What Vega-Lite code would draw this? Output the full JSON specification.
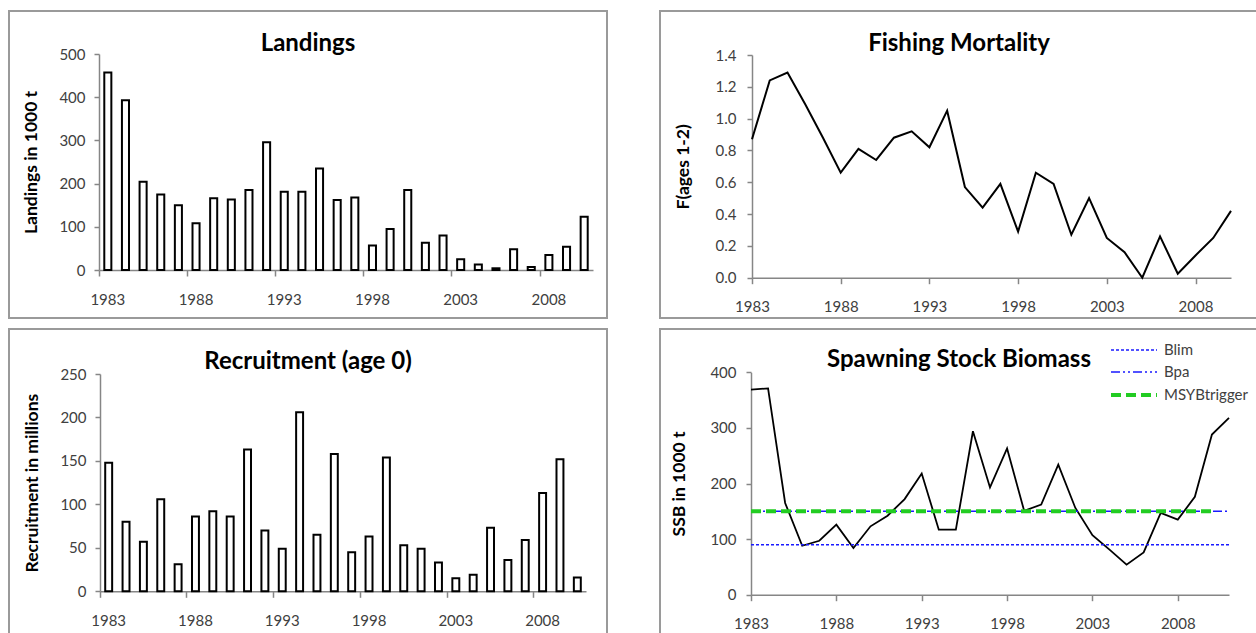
{
  "$schema": "https://vega.github.io/schema/vega-lite/v6.json",
  "padding": {"left": 8, "top": 10, "right": 0, "bottom": 0},
  "background": "white",
  "columns": 2,
  "spacing": {"row": 9, "column": 51},
  "resolve": {
    "scale": {"color": "independent", "strokeDash": "independent", "strokeWidth": "independent"},
    "legend": {"color": "independent", "strokeDash": "independent", "strokeWidth": "independent"}
  },
  "datasets": {
    "landings": [
      {"year": 1983, "value": 457}, {"year": 1984, "value": 393}, {"year": 1985, "value": 204}, {"year": 1986, "value": 175},
      {"year": 1987, "value": 150}, {"year": 1988, "value": 108}, {"year": 1989, "value": 166}, {"year": 1990, "value": 163},
      {"year": 1991, "value": 185}, {"year": 1992, "value": 296}, {"year": 1993, "value": 181}, {"year": 1994, "value": 181},
      {"year": 1995, "value": 235}, {"year": 1996, "value": 162}, {"year": 1997, "value": 168}, {"year": 1998, "value": 57},
      {"year": 1999, "value": 95}, {"year": 2000, "value": 185}, {"year": 2001, "value": 63}, {"year": 2002, "value": 80},
      {"year": 2003, "value": 25}, {"year": 2004, "value": 13}, {"year": 2005, "value": 4}, {"year": 2006, "value": 48},
      {"year": 2007, "value": 7}, {"year": 2008, "value": 35}, {"year": 2009, "value": 54}, {"year": 2010, "value": 123}
    ],
    "fmort": [
      {"year": 1983, "value": 0.87}, {"year": 1984, "value": 1.24}, {"year": 1985, "value": 1.29}, {"year": 1986, "value": 1.09},
      {"year": 1987, "value": 0.88}, {"year": 1988, "value": 0.66}, {"year": 1989, "value": 0.81}, {"year": 1990, "value": 0.74},
      {"year": 1991, "value": 0.88}, {"year": 1992, "value": 0.92}, {"year": 1993, "value": 0.82}, {"year": 1994, "value": 1.05},
      {"year": 1995, "value": 0.57}, {"year": 1996, "value": 0.44}, {"year": 1997, "value": 0.59}, {"year": 1998, "value": 0.29},
      {"year": 1999, "value": 0.66}, {"year": 2000, "value": 0.59}, {"year": 2001, "value": 0.27}, {"year": 2002, "value": 0.50},
      {"year": 2003, "value": 0.25}, {"year": 2004, "value": 0.16}, {"year": 2005, "value": 0.0}, {"year": 2006, "value": 0.26},
      {"year": 2007, "value": 0.025}, {"year": 2008, "value": 0.14}, {"year": 2009, "value": 0.25}, {"year": 2010, "value": 0.42}
    ],
    "recruit": [
      {"year": 1983, "value": 148}, {"year": 1984, "value": 80}, {"year": 1985, "value": 57}, {"year": 1986, "value": 106},
      {"year": 1987, "value": 31}, {"year": 1988, "value": 86}, {"year": 1989, "value": 92}, {"year": 1990, "value": 86},
      {"year": 1991, "value": 163}, {"year": 1992, "value": 70}, {"year": 1993, "value": 49}, {"year": 1994, "value": 206},
      {"year": 1995, "value": 65}, {"year": 1996, "value": 158}, {"year": 1997, "value": 45}, {"year": 1998, "value": 63},
      {"year": 1999, "value": 154}, {"year": 2000, "value": 53}, {"year": 2001, "value": 49}, {"year": 2002, "value": 33},
      {"year": 2003, "value": 15}, {"year": 2004, "value": 19}, {"year": 2005, "value": 73}, {"year": 2006, "value": 36},
      {"year": 2007, "value": 59}, {"year": 2008, "value": 113}, {"year": 2009, "value": 152}, {"year": 2010, "value": 16}
    ],
    "ssb": [
      {"year": 1983, "value": 369}, {"year": 1984, "value": 371}, {"year": 1985, "value": 165}, {"year": 1986, "value": 88},
      {"year": 1987, "value": 97}, {"year": 1988, "value": 126}, {"year": 1989, "value": 84}, {"year": 1990, "value": 123},
      {"year": 1991, "value": 142}, {"year": 1992, "value": 172}, {"year": 1993, "value": 218}, {"year": 1994, "value": 117},
      {"year": 1995, "value": 117}, {"year": 1996, "value": 294}, {"year": 1997, "value": 193}, {"year": 1998, "value": 263},
      {"year": 1999, "value": 151}, {"year": 2000, "value": 162}, {"year": 2001, "value": 234}, {"year": 2002, "value": 156},
      {"year": 2003, "value": 107}, {"year": 2004, "value": 81}, {"year": 2005, "value": 54}, {"year": 2006, "value": 76},
      {"year": 2007, "value": 147}, {"year": 2008, "value": 135}, {"year": 2009, "value": 176}, {"year": 2010, "value": 288},
      {"year": 2011, "value": 318}
    ],
    "refpoints": [
      {"series": "Blim", "year": 1983, "value": 90}, {"series": "Blim", "year": 2011, "value": 90},
      {"series": "Bpa", "year": 1983, "value": 150}, {"series": "Bpa", "year": 2011, "value": 150},
      {"series": "MSYBtrigger", "year": 1983, "value": 150}, {"series": "MSYBtrigger", "year": 2010, "value": 150}
    ]
  },
  "concat": [
    {
      "width": 598, "height": 307,
      "title": {"text": "Landings", "offset": -45},
      "data": {"name": "landings"},
      "mark": {"type": "bar", "fill": "white", "stroke": "black", "strokeWidth": 2, "width": {"band": 0.4}},
      "encoding": {
        "x": {"field": "year", "type": "ordinal",
          "scale": {"range": [90, 584], "paddingInner": 0, "paddingOuter": 0},
          "axis": {"values": [1983, 1988, 1993, 1998, 2003, 2008], "bandPosition": 0, "labelAngle": 0, "title": null, "offset": -48, "tickSize": 6, "labelPadding": 16}},
        "y": {"field": "value", "type": "quantitative",
          "scale": {"domain": [0, 500], "range": [259, 43], "nice": false},
          "axis": {"values": [0, 100, 200, 300, 400, 500], "title": "Landings in 1000 t", "offset": -90, "labelPadding": 9, "titlePadding": 18}}
      }
    },
    {
      "width": 598, "height": 307,
      "title": {"text": "Fishing Mortality", "offset": -45},
      "data": {"name": "fmort"},
      "mark": {"type": "line", "color": "black", "strokeWidth": 2},
      "encoding": {
        "x": {"field": "year", "type": "quantitative",
          "scale": {"domain": [1983, 2010], "range": [92, 571], "nice": false, "zero": false},
          "axis": {"values": [1983, 1988, 1993, 1998, 2003, 2008], "format": "d", "title": null, "offset": -40.3, "tickSize": 6, "labelPadding": 16}},
        "y": {"field": "value", "type": "quantitative",
          "scale": {"domain": [0, 1.4], "range": [266.7, 44], "nice": false},
          "axis": {"values": [0, 0.2, 0.4, 0.6, 0.8, 1.0, 1.2, 1.4], "format": ".1f", "title": "F(ages 1-2)", "offset": -92, "labelPadding": 11, "titlePadding": 23}}
      }
    },
    {
      "width": 598, "height": 307,
      "title": {"text": "Recruitment (age 0)", "offset": -45},
      "data": {"name": "recruit"},
      "mark": {"type": "bar", "fill": "white", "stroke": "black", "strokeWidth": 2, "width": {"band": 0.4}},
      "encoding": {
        "x": {"field": "year", "type": "ordinal",
          "scale": {"range": [91, 577], "paddingInner": 0, "paddingOuter": 0},
          "axis": {"values": [1983, 1988, 1993, 1998, 2003, 2008], "bandPosition": 0, "labelAngle": 0, "title": null, "offset": -44.7, "tickSize": 6, "labelPadding": 16}},
        "y": {"field": "value", "type": "quantitative",
          "scale": {"domain": [0, 250], "range": [262.3, 45], "nice": false},
          "axis": {"values": [0, 50, 100, 150, 200, 250], "title": "Recruitment in millions", "offset": -91, "labelPadding": 9, "titlePadding": 18}}
      }
    },
    {
      "width": 598, "height": 307,
      "title": {"text": "Spawning Stock Biomass", "offset": -43},
      "layer": [
        {
          "data": {"name": "ssb"},
          "mark": {"type": "line", "color": "black", "strokeWidth": 1.8},
          "encoding": {
            "x": {"field": "year", "type": "quantitative",
              "scale": {"domain": [1983, 2011], "range": [91, 569], "nice": false, "zero": false},
              "axis": {"values": [1983, 1988, 1993, 1998, 2003, 2008], "format": "d", "title": null, "offset": -41.3, "tickSize": 6, "labelPadding": 16}},
            "y": {"field": "value", "type": "quantitative",
              "scale": {"domain": [0, 400], "range": [265.7, 43.3], "nice": false},
              "axis": {"values": [0, 100, 200, 300, 400], "title": "SSB in 1000 t", "offset": -91, "labelPadding": 10, "titlePadding": 21}}
          }
        },
        {
          "data": {"name": "refpoints"},
          "mark": {"type": "line"},
          "encoding": {
            "x": {"field": "year", "type": "quantitative"},
            "y": {"field": "value", "type": "quantitative"},
            "detail": {"field": "series"},
            "color": {"field": "series", "type": "nominal",
              "scale": {"domain": ["Blim", "Bpa", "MSYBtrigger"], "range": ["#1a1aff", "#1a1aff", "#22cc22"]},
              "legend": {"title": null, "orient": "top-right", "offset": 10, "symbolType": "M-2.3,0H2.3", "symbolSize": 400, "labelFontSize": 15, "labelColor": "#404040", "labelFont": "Lato", "rowPadding": 3, "labelOffset": 18}},
            "strokeDash": {"field": "series", "type": "nominal",
              "scale": {"domain": ["Blim", "Bpa", "MSYBtrigger"], "range": [[3, 2], [9, 3, 2, 3, 2, 3], [10, 5]]},
              "legend": {"title": null, "orient": "top-right", "offset": 10, "symbolType": "M-2.3,0H2.3", "symbolSize": 400, "labelFontSize": 15, "labelColor": "#404040", "labelFont": "Lato", "rowPadding": 3, "labelOffset": 18}},
            "strokeWidth": {"field": "series", "type": "nominal",
              "scale": {"type": "ordinal", "domain": ["Blim", "Bpa", "MSYBtrigger"], "range": [1.5, 1.5, 4]},
              "legend": {"title": null, "orient": "top-right", "offset": 10, "symbolType": "M-2.3,0H2.3", "symbolSize": 400, "labelFontSize": 15, "labelColor": "#404040", "labelFont": "Lato", "rowPadding": 3, "labelOffset": 18}}
          }
        }
      ]
    }
  ],
  "config": {
    "font": "Lato",
    "view": {"stroke": "#9a9a9a", "strokeWidth": 2},
    "axis": {"domainColor": "#868686", "tickColor": "#868686", "labelColor": "#404040", "labelFont": "Lato", "labelFontSize": 15,
      "titleFont": "Lato", "titleFontSize": 17.5, "titleFontWeight": "bold", "titleColor": "#000000", "grid": false,
      "domainWidth": 1.5, "tickWidth": 1.5, "tickSize": 5, "labelFlush": false},
    "title": {"font": "Lato", "fontSize": 24, "fontWeight": "bold", "color": "#000000", "frame": "group", "baseline": "alphabetic", "anchor": "middle"}
  }
}
